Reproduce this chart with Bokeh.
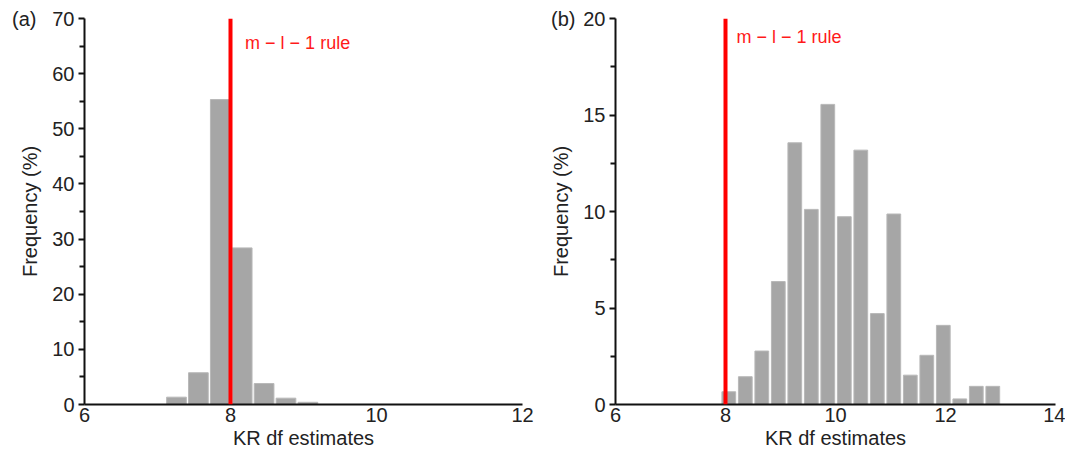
from bokeh.plotting import figure
from bokeh.layouts import row
from bokeh.models import (Range1d, FixedTicker, Span, Label, LinearAxis,
                          PrintfTickFormatter)
from bokeh.embed import file_html
from bokeh.resources import INLINE

# ---- data ----
a_centers = [7.26, 7.56, 7.86, 8.16, 8.46, 8.76, 9.06]
a_freq = [1.33, 5.76, 55.3, 28.4, 3.8, 1.15, 0.4]
b_centers = [8.06, 8.36, 8.66, 8.96, 9.26, 9.56, 9.86, 10.16, 10.46, 10.76,
             11.06, 11.36, 11.66, 11.96, 12.26, 12.56, 12.86]
b_freq = [0.66, 1.44, 2.77, 6.37, 13.56, 10.11, 15.55, 9.73, 13.18, 4.71,
          9.87, 1.52, 2.55, 4.10, 0.29, 0.94, 0.94]
rule_df = 8
rule_text = "m \u2212 l \u2212 1 rule"
x_label = "KR df estimates"
y_label = "Frequency (%)"
a_xticks = [6, 8, 10, 12]
a_yticks = [0, 10, 20, 30, 40, 50, 60, 70]
a_yminor = [5, 15, 25, 35, 45, 55, 65]
b_xticks = [6, 8, 10, 12, 14]
b_yticks = [0, 5, 10, 15, 20]
b_yminor = [2.5, 7.5, 12.5, 17.5]

FONT = "Liberation Sans"
INK = "#222222"


def make_panel(centers, freq, xr, yr, xticks, yticks, yminor, bar_w, tag,
               tag_standoff, text_x, text_y, frame_w, bl, br):
    p = figure(output_backend="svg", toolbar_location=None,
               x_range=Range1d(*xr), y_range=Range1d(*yr),
               frame_width=frame_w, frame_height=386,
               min_border_left=bl, min_border_right=br,
               min_border_top=18, min_border_bottom=40)
    p.outline_line_color = None
    p.xgrid.visible = False
    p.ygrid.visible = False
    p.background_fill_color = "white"
    p.border_fill_color = "white"

    p.vbar(x=centers, top=freq, bottom=0, width=bar_w,
           fill_color="#a6a6a6", line_color="#b8b8b8", line_width=1)
    p.add_layout(Span(location=rule_df, dimension="height",
                      line_color="#ff0000", line_width=4))
    p.add_layout(Label(x=text_x, y=text_y, text=rule_text,
                       text_color="#ff1a1a", text_font=FONT,
                       text_font_size="18px", text_baseline="middle"))

    xa = p.xaxis[0]
    xa.ticker = FixedTicker(ticks=xticks)
    xa.major_tick_out = 0
    xa.major_tick_in = 0
    xa.minor_tick_out = 0
    xa.minor_tick_in = 0
    xa.axis_line_width = 2
    xa.axis_line_color = "#111111"
    xa.major_label_text_font = FONT
    xa.major_label_text_font_size = "20px"
    xa.major_label_text_color = INK
    xa.major_label_standoff = 3
    xa.axis_label = x_label
    xa.axis_label_text_font = FONT
    xa.axis_label_text_font_size = "20px"
    xa.axis_label_text_font_style = "normal"
    xa.axis_label_text_color = INK
    xa.axis_label_standoff = 2

    ya = p.yaxis[0]
    ya.ticker = FixedTicker(ticks=yticks, minor_ticks=yminor)
    ya.major_tick_out = 6
    ya.major_tick_in = 0
    ya.minor_tick_out = 5
    ya.minor_tick_in = 0
    ya.major_tick_line_width = 2
    ya.minor_tick_line_width = 2
    ya.major_tick_line_color = "#111111"
    ya.minor_tick_line_color = "#111111"
    ya.axis_line_width = 2
    ya.axis_line_color = "#111111"
    ya.major_label_text_font = FONT
    ya.major_label_text_font_size = "20px"
    ya.major_label_text_color = INK
    ya.major_label_standoff = 4
    ya.axis_label = y_label
    ya.axis_label_text_font = FONT
    ya.axis_label_text_font_size = "20px"
    ya.axis_label_text_font_style = "normal"
    ya.axis_label_text_color = INK
    ya.axis_label_standoff = 8

    # panel tag "(a)"/"(b)" drawn as the single label of an outer axis
    tag_axis = LinearAxis(ticker=FixedTicker(ticks=[yr[1]], minor_ticks=[]),
                          formatter=PrintfTickFormatter(format=tag))
    tag_axis.axis_line_color = None
    tag_axis.major_tick_line_color = None
    tag_axis.minor_tick_line_color = None
    tag_axis.major_tick_out = 0
    tag_axis.major_tick_in = 0
    tag_axis.minor_tick_out = 0
    tag_axis.minor_tick_in = 0
    tag_axis.major_label_text_font = FONT
    tag_axis.major_label_text_font_size = "20px"
    tag_axis.major_label_text_color = INK
    tag_axis.major_label_standoff = tag_standoff
    p.add_layout(tag_axis, "left")
    return p


p1 = make_panel(a_centers, a_freq, (6, 12), (0, 70), a_xticks, a_yticks,
                a_yminor, 0.27, "(a)", -20, 8.2, 65.5, 438, 84, 16)
p2 = make_panel(b_centers, b_freq, (6, 14), (0, 20), b_xticks, b_yticks,
                b_yminor, 0.25, "(b)", -28, 8.2, 19.05, 440, 77, 10)

layout = row(p1, p2)
open("out.html", "w").write(file_html(layout, INLINE))
